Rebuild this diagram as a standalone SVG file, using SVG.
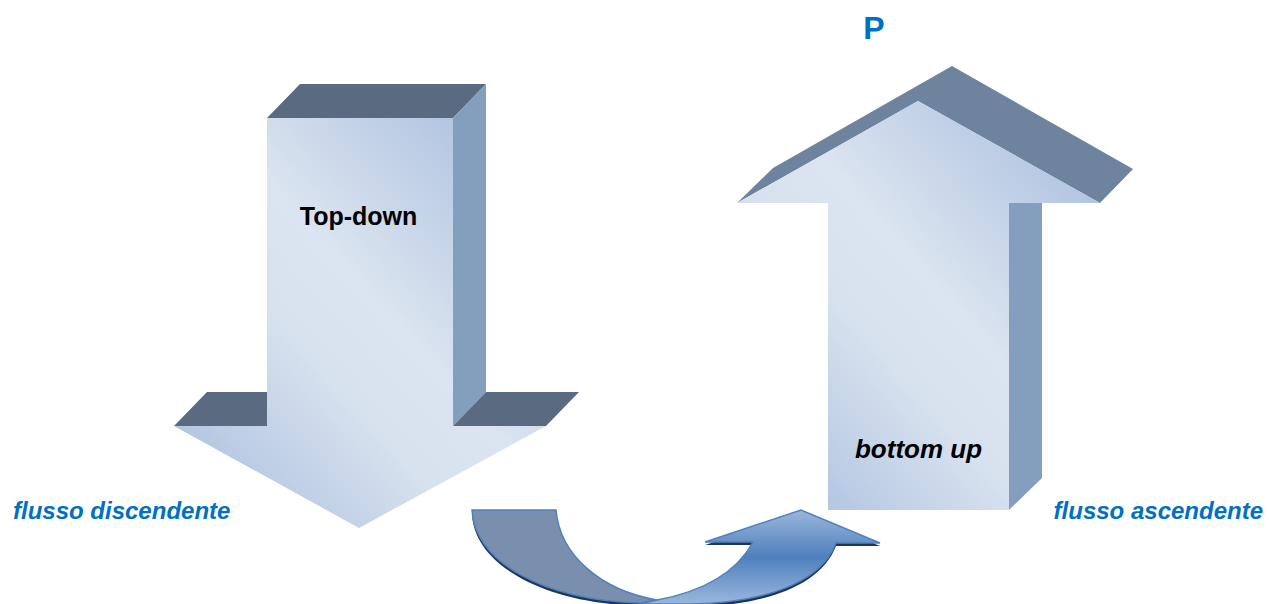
<svg xmlns="http://www.w3.org/2000/svg" width="1269" height="604" viewBox="0 0 1269 604">
<defs>
<linearGradient id="face" x1="1" y1="0" x2="0" y2="1">
<stop offset="0" stop-color="#a3badb"/>
<stop offset="0.45" stop-color="#dbe4f0"/>
<stop offset="0.6" stop-color="#d8e2ef"/>
<stop offset="1" stop-color="#a3badb"/>
</linearGradient>
<linearGradient id="blueBand" x1="0" y1="0" x2="0" y2="1">
<stop offset="0" stop-color="#9ab7dc"/>
<stop offset="0.5" stop-color="#4f80bd"/>
<stop offset="1" stop-color="#9ab7dc"/>
</linearGradient>
<style>
.top1{fill:#5a6a80}
.top2{fill:#6d839e}
.side{fill:#849fbd}
.front{fill:url(#face)}
.lbl{font-family:"Liberation Sans",Arial,sans-serif;font-weight:bold}
.blue{fill:#0070c0;font-style:italic}
</style>
</defs>
<g id="down-arrow">
<polygon class="top1" points="267,118 300,84 486,84 453,118"/>
<polygon class="side" points="453,118 486,84 486,392 453,426"/>
<polygon class="top1" points="174,426 207,392 267,392 267,426"/>
<polygon class="top1" points="453,426 486,392 579,392 546,426"/>
<polygon class="front" points="267,118 453,118 453,426 546,426 359,528 174,426 267,426"/>
<text class="lbl" x="358.5" y="225" font-size="25" text-anchor="middle" fill="#000">Top-down</text>
</g>
<g id="up-arrow">
<polygon class="top2" points="737,203 773,168 952,66 1133,169 1100,203 918,101"/>
<polygon class="side" points="1009,203 1042,203 1042,478 1009,510"/>
<polygon class="front" points="918,101 1100,203 1009,203 1009,510 828,510 828,203 737,203"/>
<text class="lbl" x="918.5" y="458" font-size="26" font-style="italic" text-anchor="middle" fill="#000">bottom up</text>
</g>
<g id="curved-arrow">
<path d="M657,603 C700,595 735,578 753,545 L705,545 L801,513 L880,546 L836,546 C820,588 760,606 690,607 L640,607 Z" fill="#1f3558"/>
<path d="M472,514 L556,514 C560,558 600,593 657,603 L640,606 C540,603 474,563 472,514 Z" fill="#1f3558"/>
<path d="M472,510 L556,510 C560,555 600,590 657,600 L640,603 C540,600 474,560 472,510 Z" fill="#7a8fad" stroke="#4f81bd" stroke-width="1.5"/>
<path d="M657,600 C700,592 735,575 753,542 L705,542 L801,510 L880,543 L836,543 C820,585 760,603 690,604 L640,604 Z" fill="url(#blueBand)" stroke="#4f81bd" stroke-width="1.5"/>
</g>
<g id="labels">
<text class="lbl blue" x="13" y="519" font-size="24">flusso discendente</text>
<text class="lbl blue" x="1263" y="519" font-size="24" text-anchor="end">flusso ascendente</text>
<text class="lbl" x="874" y="39" font-size="32" text-anchor="middle" fill="#0070c0">P</text>
</g>
</svg>
